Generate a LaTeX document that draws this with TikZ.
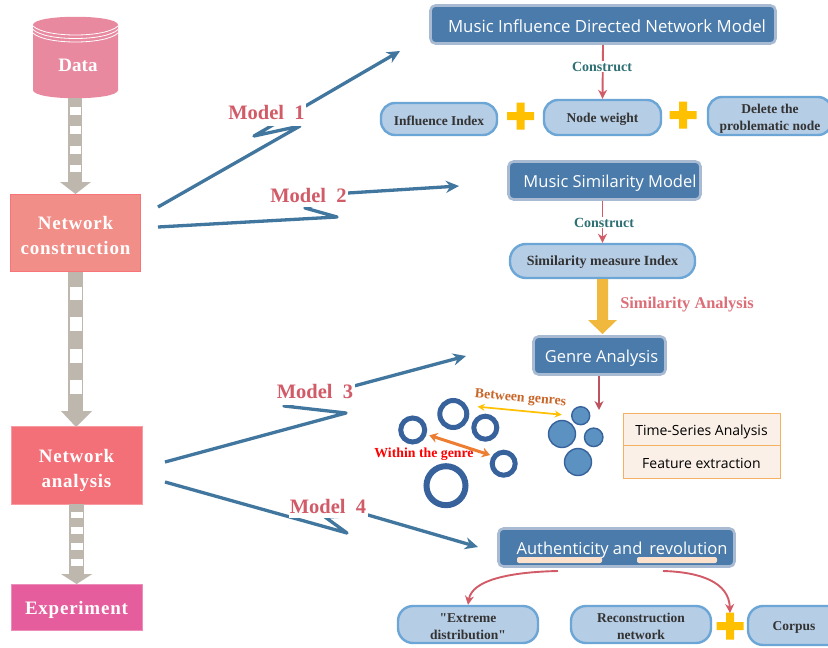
\documentclass[tikz,border=0pt]{standalone}
\usepackage{fontspec}
\setmainfont{Liberation Serif}
\newfontfamily\titlefont{Open Sans}
\newfontfamily\spacedfont[LetterSpace=4]{Liberation Serif}
\newfontfamily\plainquote{Liberation Serif}
\usetikzlibrary{arrows.meta,calc}
\definecolor{titleblue}{HTML}{4A7BAA}
\definecolor{titleedge}{HTML}{A9BAD3}
\definecolor{pillfill}{HTML}{B6CDE6}
\definecolor{pilledge}{HTML}{6CA6D6}
\definecolor{linkblue}{HTML}{41769E}
\definecolor{redarrow}{HTML}{D15C68}
\definecolor{shaftc}{HTML}{BDB7AE}
\definecolor{plusc}{HTML}{FFC000}
\definecolor{tealc}{HTML}{2D6F73}
\definecolor{ringblue}{HTML}{37629C}
\definecolor{dotblue}{HTML}{5B92C1}
\definecolor{cylc}{HTML}{E889A0}
\definecolor{consc}{HTML}{F18E88}
\definecolor{consedge}{HTML}{F8747A}
\definecolor{analc}{HTML}{F37078}
\definecolor{expc}{HTML}{E55D9C}
\definecolor{underc}{HTML}{FCE2CD}
\definecolor{cellc}{HTML}{FBF0E8}
\definecolor{celledge}{HTML}{F4B163}
\definecolor{goldc}{HTML}{F0B93D}
\definecolor{orangec}{HTML}{ED7D31}
\definecolor{betweenc}{HTML}{C9672A}
\definecolor{simc}{HTML}{DC6E78}
\tikzset{
  titlebox/.style={draw=titleedge,line width=2.6pt,fill=titleblue,rounded corners=5pt,inner sep=0pt},
  titletext/.style={text=white,font=\titlefont\fontsize{16.5}{18}\selectfont,inner sep=0pt},
  pill/.style={draw=pilledge,line width=2.4pt,fill=pillfill,rounded corners=14pt,inner sep=0pt},
  pilltext/.style={text=black!80,font=\bfseries\fontsize{13.5}{17}\selectfont,align=center,inner sep=0pt},
  stagebox/.style={inner sep=0pt,line width=0.8pt},
  stagetext/.style={text=white,font=\spacedfont\bfseries\fontsize{19}{25}\selectfont,align=center,inner sep=0pt},
  modellabel/.style={fill=white,text=redarrow,font=\bfseries\fontsize{20.5}{22}\selectfont,inner sep=0pt,minimum width=79pt},
  link/.style={draw=linkblue,line width=3.3pt,line join=round},
  linkarrow/.style={link,-{Stealth[length=13pt,width=12pt]}},
  redline/.style={draw=redarrow,line width=1.9pt,-{Stealth[length=9pt,width=9pt]}},
  construct/.style={fill=white,text=tealc,font=\bfseries\fontsize{14}{16}\selectfont,inner sep=1pt},
  ring/.style={circle,draw=ringblue,fill=white,inner sep=0pt,line width=5pt},
  dotnode/.style={circle,draw=ringblue,line width=1.4pt,fill=dotblue,inner sep=0pt},
  tablecell/.style={draw=celledge,line width=1pt,fill=cellc,minimum width=157pt,minimum height=32.5pt,inner sep=0pt},
  tabletext/.style={font=\titlefont\fontsize{14}{17}\selectfont,inner sep=0pt,text=black},
  plus/.pic={\fill[plusc] (-13.5pt,-4pt) rectangle (13.5pt,4pt) (-4pt,-13.5pt) rectangle (4pt,13.5pt);},
}
\newcommand{\stripes}[4]{\foreach \yy in {#4} {\fill[white] (#1,\yy) rectangle (#2,\yy+#3);}}
\begin{document}
\begin{tikzpicture}[x=1pt,y=-1pt]
\useasboundingbox (0,0) rectangle (828,648);
\clip (0,0) rectangle (828,648);
\fill[white] (0,0) rectangle (828,648);

% cylinder
\fill[cylc] (33,25) .. controls (33,14) and (118,14) .. (118,25)
  -- (118,90) .. controls (118,101) and (33,101) .. (33,90) -- cycle;
\foreach \dy in {26,29.5,33}{
  \draw[white,line width=0.8pt] (33,\dy) .. controls (45,\dy+12) and (106,\dy+12) .. (118,\dy);
}
\node[inner sep=0pt,text=white,font=\bfseries\fontsize{19}{22}\selectfont] (data) at (78,65) {Data};

% stages
\node[stagebox,draw=consedge,fill=consc,minimum width=130pt,minimum height=77pt,
  label={[stagetext,yshift=-3pt]center:Network\\construction}] (construction) at (75.5,233) {};
\node[stagebox,draw=analc!70!white,fill=analc,minimum width=131pt,minimum height=78pt,
  label={[stagetext,yshift=-5pt]center:Network\\analysis}] (analysis) at (76.5,465.5) {};
\node[stagebox,draw=expc!70!white,fill=expc,minimum width=131pt,minimum height=46pt,
  label={[stagetext,yshift=-2.5pt]center:Experiment}] (experiment) at (76.5,607) {};

% thick striped arrows
\fill[shaftc] (68.3,98) rectangle (82.3,182);
\fill[shaftc] (60,182) -- (91,182) -- (75.5,194) -- cycle;
\stripes{69.5}{81}{7.5}{107,126,146,164.5}
\fill[shaftc] (68.3,272) rectangle (83.3,411);
\fill[shaftc] (61,411) -- (92,411) -- (76,427) -- cycle;
\stripes{70}{82}{13.5}{286.7,317,349,380}
\fill[shaftc] (69.3,504) rectangle (84,574);
\fill[shaftc] (61,574) -- (92.3,574) -- (76.6,584) -- cycle;
\stripes{70.5}{82.8}{6.5}{511.7,527.3,543.3,559}

% links
\coordinate (s1) at (158,207); \coordinate (e1) at (400,51);
\coordinate (s2) at (158,227); \coordinate (e2) at (459,186);
\coordinate (s3) at (165,462); \coordinate (e3) at (466,356);
\coordinate (s4) at (165,482); \coordinate (e4) at (478,547);
\draw[linkarrow] (s1) -- (300,126) -- (254,136) -- (e1);
\draw[linkarrow] (s2) -- (337,217) -- (305,208) -- (348,193) -- (e2);
\draw[linkarrow] (s3) -- (346,413) -- (284,406) -- (354,386) -- (e3);
\draw[linkarrow] (s4) -- (347,533) -- (325,517) -- (368,515) -- (e4);

% model labels
\node[modellabel,minimum height=28pt] (m1) at (266.5,112) {Model\ \ 1};
\node[modellabel,minimum height=24pt] (m2) at (308.5,195) {Model\ \ 2};
\node[modellabel,minimum height=28pt] (m3) at (315,391) {Model\ \ 3};
\node[modellabel,minimum height=24pt] (m4) at (328,506) {Model\ \ 4};

% title boxes
\node[titlebox,minimum width=345pt,minimum height=38pt,
  label={[titletext,xshift=4pt,yshift=-2pt,font=\titlefont\fontsize{16.8}{18}\selectfont]center:Music Influence Directed Network Model}] (t1) at (603,24.5) {};
\node[titlebox,minimum width=192pt,minimum height=38pt,
  label={[titletext,xshift=5.5pt,yshift=-2.5pt]center:Music Similarity Model}] (t2) at (604.5,180.5) {};
\node[titlebox,minimum width=132pt,minimum height=38pt,
  label={[titletext,xshift=2pt,yshift=-2.5pt]center:Genre Analysis}] (t3) at (599.5,355.5) {};
\node[titlebox,minimum width=236pt,minimum height=38pt,
  label={[titletext,xshift=5.5pt,yshift=-2.5pt]center:Authenticity and\, revolution}] (t4) at (616.5,547.5) {};
\fill[underc,rounded corners=2pt] (517,557) rectangle (602,563);
\fill[underc,rounded corners=2pt] (637,557) rectangle (717,563);

% first row
\node[pill,minimum width=116pt,minimum height=32pt,
  label={[pilltext,yshift=-1.5pt]center:Influence Index}] (influence) at (439,119) {};
\node[pill,minimum width=117pt,minimum height=35pt,
  label={[pilltext,yshift=-2pt]center:Node weight}] (nodew) at (602.5,117.5) {};
\node[pill,minimum width=124pt,minimum height=38pt,
  label={[pilltext,yshift=-2.5pt]center:Delete the\\problematic node}] (del) at (770,116) {};
\pic at (520.5,116) {plus};
\pic at (683,115) {plus};
\draw[redline] (t1.south) -- (nodew.north);
\node[construct] (c1) at (602,66.5) {Construct};

% similarity
\node[pill,minimum width=185pt,minimum height=34pt,rounded corners=16pt,
  label={[pilltext,yshift=-1.5pt,font=\bfseries\fontsize{14}{17}\selectfont]center:Similarity measure Index}] (sim) at (602.5,261) {};
\draw[redline] (t2.south -| sim.north) -- (sim.north);
\node[construct] (c2) at (604,222.5) {Construct};
\fill[goldc] (597,279) -- (608,279) -- (608,320) -- (617,320) -- (602.5,334) -- (588,320) -- (597,320) -- cycle;
\node[inner sep=0pt,text=simc,font=\bfseries\fontsize{16.4}{18}\selectfont] (sa) at (687,304.5) {Similarity Analysis};

% genre cluster
\coordinate (g1) at (599,410);
\draw[redline,draw=redarrow!90!black,line width=2pt] (t3.south -| g1) -- (g1);
\node[ring,minimum size=24pt] (ra) at (412.7,430) {};
\node[ring,minimum size=27pt] (rb) at (453.3,414) {};
\node[ring,minimum size=23pt] (rc) at (485.3,427.7) {};
\node[ring,minimum size=23pt] (rd) at (503.7,463.7) {};
\node[ring,minimum size=39pt,line width=6pt] (re) at (446,485.7) {};
\node[dotnode,minimum size=18pt] (da) at (580.7,415.7) {};
\node[dotnode,minimum size=27pt] (db) at (562,434) {};
\node[dotnode,minimum size=18.5pt] (dc) at (593.7,437.3) {};
\node[dotnode,minimum size=27pt] (dd) at (578,462) {};
\coordinate (y1) at (477.7,406.7); \coordinate (y2) at (561.7,414.7);
\draw[draw=plusc,line width=1.7pt,{Stealth[length=7pt,width=7pt]}-{Stealth[length=7pt,width=7pt]}] (y1) -- (y2);
\coordinate (o1) at (429.3,435.3); \coordinate (o2) at (490,455);
\draw[draw=orangec,line width=3pt,{Stealth[length=8pt,width=10pt]}-{Stealth[length=8pt,width=10pt]}] (o1) -- (o2);
\node[inner sep=0pt,rotate=-5,text=betweenc,font=\bfseries\fontsize{13.8}{15}\selectfont] (bg) at (520.5,398.5) {Between genres};
\node[inner sep=0pt,text=red,font=\bfseries\fontsize{13.8}{15}\selectfont] (wg) at (424,454.5) {Within the genre};
\node[tablecell,anchor=north west,label={[tabletext,yshift=-2.5pt]center:Time-Series Analysis}] (tc1) at (622.5,412.5) {};
\node[tablecell,anchor=north west,label={[tabletext,yshift=-1.5pt]center:Feature extraction}] (tc2) at (622.5,445) {};

% last row
\node[pill,minimum width=140pt,minimum height=37pt,rounded corners=15pt,
  label={[pilltext,yshift=-2pt]center:{\plainquote"}Extreme\\distribution{\plainquote"}}] (extreme) at (468,624.5) {};
\node[pill,minimum width=140pt,minimum height=37pt,rounded corners=15pt,
  label={[pilltext,yshift=-2pt]center:Reconstruction\\network}] (recon) at (641,624.5) {};
\node[pill,minimum width=124pt,minimum height=39pt,rounded corners=15pt] (corpus) at (810,625.5) {};
\node[pilltext] (corpustext) at (794,627) {Corpus};
\pic at (730,626) {plus};
\coordinate (k1) at (558,571); \coordinate (k2) at (663,571);
\draw[redline] (k1) .. controls (510,572) and (472,580) .. (extreme.north -| 468,0);
\draw[redline] (k2) .. controls (700,572) and (729,582) .. (730,613);
\end{tikzpicture}
\end{document}
